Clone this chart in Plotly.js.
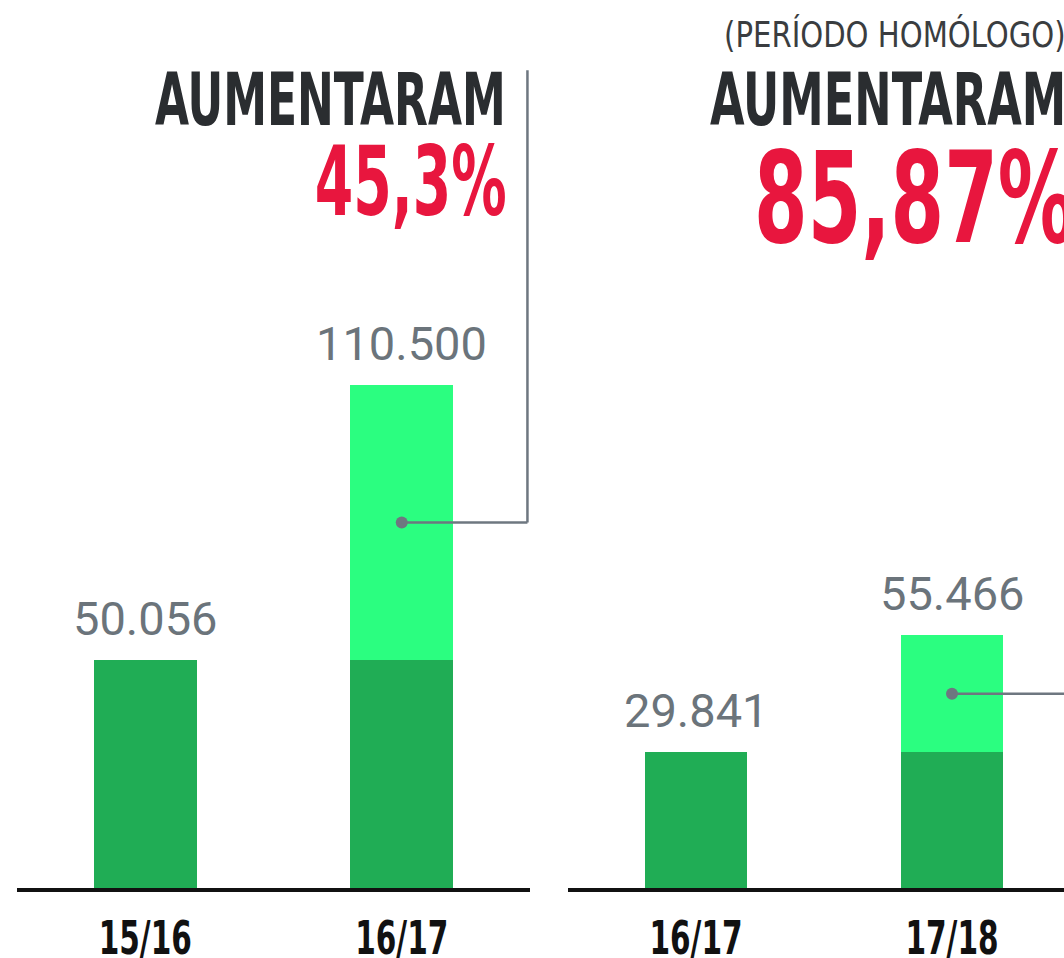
<!DOCTYPE html>
<html>
<head>
<meta charset="utf-8">
<script src="https://cdn.plot.ly/plotly-3.0.1.min.js"></script>
<style>
html,body{margin:0;padding:0;background:#fff;}
#chart{width:1064px;height:958px;}
/* condensed look for the headline and tick texts */
#chart g.annotation[data-index="4"] text { transform-box: fill-box; transform-origin: right center; transform: scaleX(0.67); }
#chart g.annotation[data-index="5"] text { transform-box: fill-box; transform-origin: right center; transform: scaleX(0.64); }
#chart g.annotation[data-index="7"] text,
#chart g.annotation[data-index="8"] text { transform-box: fill-box; transform-origin: left center; transform: scaleX(0.68); }
#chart g.annotation[data-index="6"] text { transform-box: fill-box; transform-origin: left center; transform: scaleX(0.9); }
#chart g.xtick, #chart g.x2tick { transform-box: fill-box; transform-origin: center; transform: scaleX(0.7); }
</style>
</head>
<body>
<div id="chart"></div>
<script>
// Panel 1: season totals
const leftCategories = ["15/16", "16/17"];
const leftTotals = [50056, 110500];
const leftLabels = ["50.056", "110.500"];
// Panel 2: homologous period
const rightCategories = ["16/17", "17/18"];
const rightTotals = [29841, 55466];
const rightLabels = ["29.841", "55.466"];
const leftHeadline = "AUMENTARAM";
const leftPercent = "45,3%";
const rightNote = "(PERÍODO HOMÓLOGO)";
const rightHeadline = "AUMENTARAM";
const rightPercent = "85,87%";

const DARK = "#20ad55", LIGHT = "#2bfe80", GREY = "#6e7780", RED = "#e8163e", INK = "#2a2d30";
const NARROW = "'DejaVu Sans Condensed', 'Liberation Sans Narrow', sans-serif";

function panel(cats, totals, xa) {
  const base = totals.map(() => totals[0]);
  const inc = totals.map(v => v - totals[0]);
  return [
    {type: "bar", x: cats, y: base, xaxis: xa, yaxis: "y", marker: {color: DARK}, width: 0.4, hoverinfo: "skip"},
    {type: "bar", x: cats, y: inc, xaxis: xa, yaxis: "y", marker: {color: LIGHT}, width: 0.4, hoverinfo: "skip"},
    {type: "scatter", mode: "markers", x: [cats[1]], y: [(totals[0] + totals[1]) / 2], xaxis: xa, yaxis: "y",
     marker: {color: GREY, size: 12}, hoverinfo: "skip"}
  ];
}

const data = [...panel(leftCategories, leftTotals, "x"), ...panel(rightCategories, rightTotals, "x2")];

const valueFont = {family: "Roboto, sans-serif", size: 47, color: "#6b747b", weight: 400};
const annotations = [];
leftCategories.forEach((c, i) => annotations.push({xref: "x", yref: "y", x: c, y: leftTotals[i], text: leftLabels[i],
  showarrow: false, yanchor: "bottom", yshift: 12, font: valueFont}));
rightCategories.forEach((c, i) => annotations.push({xref: "x2", yref: "y", x: c, y: rightTotals[i], text: rightLabels[i],
  showarrow: false, yanchor: "bottom", yshift: 12, font: valueFont}));

annotations.push(
  {xref: "paper", yref: "paper", x: 508 / 1064, y: 0.888, xanchor: "right", yanchor: "middle", showarrow: false,
   text: leftHeadline, font: {family: NARROW, size: 73, color: INK, weight: 700}},
  {xref: "paper", yref: "paper", x: 509 / 1064, y: 0.795, xanchor: "right", yanchor: "middle", showarrow: false,
   text: leftPercent, font: {family: NARROW, size: 96, color: RED, weight: 700}},
  {xref: "paper", yref: "paper", x: 722 / 1064, y: 0.961, xanchor: "left", yanchor: "middle", showarrow: false,
   text: rightNote, font: {family: NARROW, size: 36, color: "#3a3d40", weight: 400}},
  {xref: "paper", yref: "paper", x: 708 / 1064, y: 0.888, xanchor: "left", yanchor: "middle", showarrow: false,
   text: rightHeadline, font: {family: NARROW, size: 73, color: INK, weight: 700}},
  {xref: "paper", yref: "paper", x: 752 / 1064, y: 0.776, xanchor: "left", yanchor: "middle", showarrow: false,
   text: rightPercent, font: {family: NARROW, size: 126, color: RED, weight: 700}}
);

const leftMid = (leftTotals[0] + leftTotals[1]) / 2;
const rightMid = (rightTotals[0] + rightTotals[1]) / 2;
const shapes = [
  {type: "line", xref: "x", yref: "y", x0: 1, x1: 1.49, y0: leftMid, y1: leftMid, line: {color: GREY, width: 2.5}},
  {type: "line", xref: "x", yref: "paper", x0: 1.49, x1: 1.49, y0: leftMid / 195000, y1: 0.921, line: {color: GREY, width: 2.5}},
  {type: "line", xref: "x2", yref: "y", x0: 1, x1: 2, y0: rightMid, y1: rightMid, line: {color: GREY, width: 2.5}}
];

const tickFont = {family: NARROW, size: 47, color: "#111", weight: 700};
const layout = {
  width: 1064, height: 958,
  margin: {l: 0, r: 0, t: 0, b: 70},
  paper_bgcolor: "#fff", plot_bgcolor: "rgba(0,0,0,0)",
  barmode: "stack", showlegend: false,
  xaxis: {domain: [17 / 1064, 530 / 1064], range: [-0.5, 1.5], type: "category", showline: true, linecolor: "#111",
    linewidth: 4, showgrid: false, zeroline: false, ticks: "", tickfont: tickFont, ticklabelstandoff: 6, fixedrange: true},
  xaxis2: {domain: [568 / 1064, 1], range: [-0.5, 1.4375], type: "category", anchor: "y", showline: true, linecolor: "#111",
    linewidth: 4, showgrid: false, zeroline: false, ticks: "", tickfont: tickFont, ticklabelstandoff: 6, fixedrange: true},
  yaxis: {range: [0, 195000], visible: false, showgrid: false, zeroline: false, fixedrange: true},
  annotations: annotations,
  shapes: shapes
};

Plotly.newPlot("chart", data, layout, {displayModeBar: false, staticPlot: true});
</script>
</body>
</html>
